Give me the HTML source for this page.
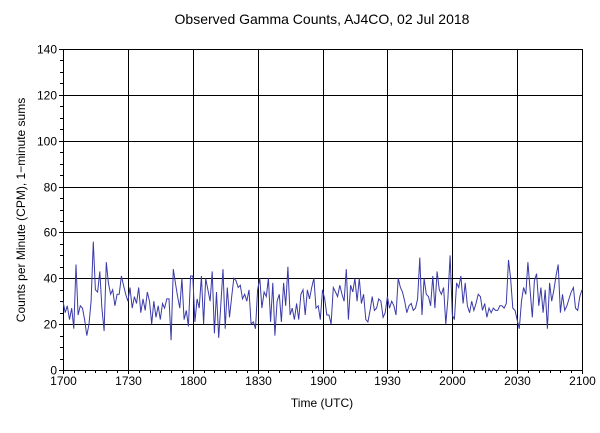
<!DOCTYPE html>
<html><head><meta charset="utf-8"><style>
body{margin:0;background:#fff;width:600px;height:428px;overflow:hidden}
svg text{font-family:"Liberation Sans",sans-serif;font-size:12px;fill:#000}
</style></head><body>
<svg id="chart" width="600" height="428" xmlns="http://www.w3.org/2000/svg">
<text x="322" y="24" text-anchor="middle" style="font-size:14px">Observed Gamma Counts, AJ4CO, 02 Jul 2018</text>
<g id="grid"></g>
<g id="axes"></g>
<text x="322" y="407" text-anchor="middle">Time (UTC)</text>
<text transform="translate(25,210) rotate(-90)" text-anchor="middle">Counts per Minute (CPM), 1−minute sums</text>
</svg>
<script>
const xTickLabels=["1700","1730","1800","1830","1900","1930","2000","2030","2100"];
const yTickLabels=[0,20,40,60,80,100,120,140];
const counts=[
30,25,28,22,27,18,46,24,28,27,22,15,20,30,56,35,34,43,27,17,47,38,33,35,28,33,33,41,37,33,
30,36,27,32,29,36,25,31,26,34,30,20,30,23,28,22,29,27,31,31,13,44,38,32,27,40,22,26,19,41,
41,21,31,27,41,20,40,35,30,43,16,34,14,29,44,18,36,23,32,40,39,36,37,31,33,30,35,20,21,18,
35,40,27,34,32,40,21,38,15,30,33,21,38,28,45,24,27,22,29,22,33,35,24,35,31,36,40,27,28,22,
35,31,24,24,20,36,34,32,37,33,30,44,22,37,34,40,30,40,29,33,22,21,26,32,26,27,31,30,23,25,
32,27,30,28,24,40,36,34,30,25,28,29,26,27,31,49,24,40,33,32,28,41,27,43,35,33,36,20,31,50,
24,22,38,36,41,29,38,28,25,30,26,29,33,32,26,29,23,27,25,27,26,26,28,28,27,29,48,40,27,26,
22,18,30,36,33,47,35,23,39,42,28,36,25,35,18,38,30,35,41,46,25,33,26,28,31,34,36,27,26,32,
35
];
const X0=63,X1=582,Y0=370,Y1=49,NS="http://www.w3.org/2000/svg";
const xs=m=>X0+(X1-X0)*m/240;
const ys=v=>Y0-(Y0-Y1)*v/140;
const svg=document.getElementById('chart');
const grid=document.getElementById('grid'),axes=document.getElementById('axes');
function mk(tag,attrs,parent){const e=document.createElementNS(NS,tag);for(const k in attrs)e.setAttribute(k,attrs[k]);parent.appendChild(e);return e;}
xTickLabels.forEach((t,i)=>{
  const x=Math.round(xs(i*30))+0.5;
  const l=mk('line',{x1:x,x2:x,y1:Y1,y2:Y0+4,stroke:'#000','stroke-width':1},grid);
  
  
  const tx=mk('text',{x:x,y:Y0+15,'text-anchor':'middle'},axes);tx.textContent=t;
  
  
});
for(let m=0;m<=240;m+=5){if(m%30){const x=Math.round(xs(m))+0.5;mk('line',{x1:x,x2:x,y1:Y0,y2:Y0+3,stroke:'#000'},axes);}}
yTickLabels.forEach(v=>{
  const y=Math.round(ys(v))+0.5;
  const l=mk('line',{x1:X0-4,x2:X1,y1:y,y2:y,stroke:'#000','stroke-width':1},grid);
  
  
  const tx=mk('text',{x:X0-6,y:y+4,'text-anchor':'end'},axes);tx.textContent=v;
  
  
});
for(let v=0;v<=140;v+=5){if(v%20){const y=Math.round(ys(v))+0.5;mk('line',{x1:X0-3,x2:X0,y1:y,y2:y,stroke:'#000'},axes);}}
const pts=counts.map((v,i)=>xs(i).toFixed(1)+','+ys(v).toFixed(1)).join(' ');
const pl=mk('polyline',{points:pts,fill:'none',stroke:'#3a3aa8','stroke-width':1},svg);


</script>
</body></html>
